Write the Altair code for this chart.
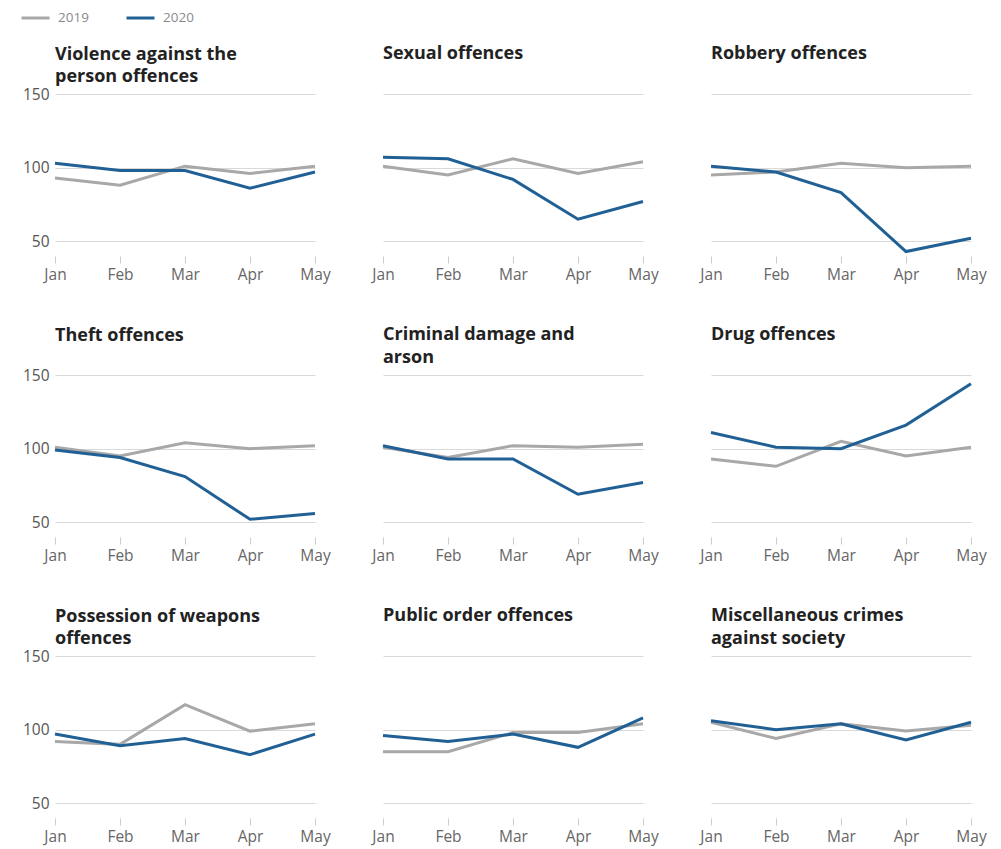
import altair as alt
import pandas as pd

months = ["Jan", "Feb", "Mar", "Apr", "May"]
years = ["2019", "2020"]

offences = [
    "Violence against the person offences",
    "Sexual offences",
    "Robbery offences",
    "Theft offences",
    "Criminal damage and arson",
    "Drug offences",
    "Possession of weapons offences",
    "Public order offences",
    "Miscellaneous crimes against society",
]

title_lines = [
    ["Violence against the", "person offences"],
    ["Sexual offences", " "],
    ["Robbery offences", " "],
    ["Theft offences", " "],
    ["Criminal damage and", "arson"],
    ["Drug offences", " "],
    ["Possession of weapons", "offences"],
    ["Public order offences", " "],
    ["Miscellaneous crimes", "against society"],
]

values_2019 = [
    [93, 88, 101, 96, 101],
    [101, 95, 106, 96, 104],
    [95, 97, 103, 100, 101],
    [101, 95, 104, 100, 102],
    [101, 94, 102, 101, 103],
    [93, 88, 105, 95, 101],
    [92, 90, 117, 99, 104],
    [85, 85, 98, 98, 104],
    [105, 94, 104, 99, 103],
]

values_2020 = [
    [103, 98, 98, 86, 97],
    [107, 106, 92, 65, 77],
    [101, 97, 83, 43, 52],
    [99, 94, 81, 52, 56],
    [102, 93, 93, 69, 77],
    [111, 101, 100, 116, 144],
    [97, 89, 94, 83, 97],
    [96, 92, 97, 88, 108],
    [106, 100, 104, 93, 105],
]

rows = []
for i, off in enumerate(offences):
    for j, m in enumerate(months):
        rows.append({"offence": off, "month": m, "year": "2019", "value": values_2019[i][j]})
        rows.append({"offence": off, "month": m, "year": "2020", "value": values_2020[i][j]})
df = pd.DataFrame(rows)

legend = alt.Legend(
    title=None,
    orient="none",
    direction="horizontal",
    legendX=-35,
    legendY=-86,
    symbolType="stroke",
    symbolSize=784,
    symbolStrokeWidth=3,
    clipHeight=20,
    labelFontSize=13.5,
    labelColor="#8a8a8a",
    labelFont="Open Sans",
    columnPadding=36,
    labelOffset=7,
)

panels = []
for i, off in enumerate(offences):
    show_y = (i % 3 == 0)
    c = (
        alt.Chart(df)
        .transform_filter(alt.datum.offence == off)
        .mark_line(strokeWidth=3)
        .encode(
            x=alt.X(
                "month:O",
                sort=months,
                scale=alt.Scale(type="point", padding=0, domain=months),
                axis=alt.Axis(
                    title=None,
                    labelAngle=0,
                    domain=False,
                    grid=False,
                    tickColor="#cccccc",
                    tickSize=7,
                    labelPadding=4,
                    labelFontSize=15.5,
                    labelColor="#666666",
                    labelFont="Open Sans",
                ),
            ),
            y=alt.Y(
                "value:Q",
                scale=alt.Scale(domain=[40, 150], nice=False, zero=False),
                axis=alt.Axis(
                    title=None,
                    values=[50, 100, 150],
                    domain=False,
                    ticks=False,
                    grid=True,
                    gridColor="#d9d9d9",
                    labels=show_y,
                    labelPadding=6,
                    labelFontSize=15.5,
                    labelColor="#555555",
                    labelFont="Open Sans",
                ),
            ),
            color=alt.Color(
                "year:N",
                scale=alt.Scale(domain=years, range=["#a8a8a8", "#206095"]),
                legend=legend,
            ),
        )
        .properties(
            width=260,
            height=162,
            title=alt.TitleParams(
                text=title_lines[i],
                anchor="start",
                frame="group",
                fontSize=18,
                font="Open Sans",
                fontWeight="bold",
                color="#222222",
                lineHeight=22.5,
                offset=1 if show_y else 8.5,
            ),
        )
    )
    panels.append(c)

chart = (
    alt.concat(*panels, columns=3, spacing={"row": 119, "column": 68}, bounds="flush")
    .properties(padding={"left": 12, "top": 0, "right": 5, "bottom": 5})
    .configure_view(stroke=None)
)

chart.save("out.html", embed_options={"renderer": "svg", "actions": False})
